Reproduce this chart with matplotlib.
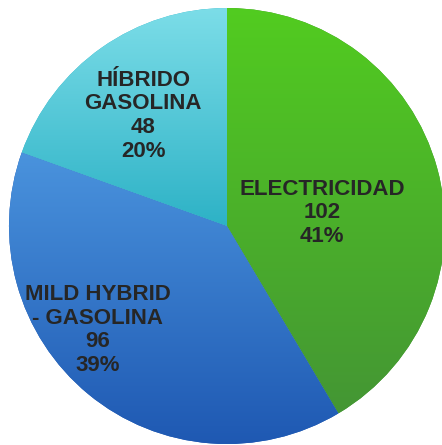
import numpy as np
import matplotlib
matplotlib.use("Agg")
import matplotlib.pyplot as plt
from matplotlib.colors import LinearSegmentedColormap

categories = ["ELECTRICIDAD", "MILD HYBRID\n- GASOLINA", "HÍBRIDO\nGASOLINA"]
values = [102, 96, 48]
pcts = ["41%", "39%", "20%"]
top_colors = ["#52CC20", "#4A93DD", "#7CDDE8"]
bottom_colors = ["#449634", "#1E58B2", "#2DB2C6"]
label_pos = [(0.436, 0.06), (-0.592, -0.477), (-0.385, 0.505)]

W, H = 442, 445
fig = plt.figure(figsize=(W / 100, H / 100), dpi=100)
ax = fig.add_axes([0, 0, 1, 1])
cx, cy, R = 227, 226, 218
ax.axis("off")

wedges, _ = ax.pie(values, startangle=90, counterclock=False, radius=1,
                   wedgeprops=dict(linewidth=0))
ax.set_aspect("auto")

grad = np.linspace(0, 1, 256).reshape(-1, 1)
for w, tc, bc in zip(wedges, top_colors, bottom_colors):
    verts = w.get_path().vertices
    x0, x1 = verts[:, 0].min(), verts[:, 0].max()
    y0, y1 = verts[:, 1].min(), verts[:, 1].max()
    cmap = LinearSegmentedColormap.from_list("g", [tc, bc])
    w.set_facecolor(bc)
    w.set_edgecolor("none")
    im = ax.imshow(grad, cmap=cmap, extent=(x0, x1, y0, y1), origin="upper",
                   aspect="auto", interpolation="bilinear", zorder=2)
    im.set_clip_path(w)

ax.set_xlim(-cx / R, (W - cx) / R)
ax.set_ylim(-(H - cy) / R, cy / R)

for (x, y), cat, v, p in zip(label_pos, categories, values, pcts):
    ax.text(x, y, f"{cat}\n{v}\n{p}", ha="center", va="center",
            fontsize=16, fontweight="bold", family="Liberation Sans",
            color="#262626", linespacing=1.18, zorder=5)

fig.savefig("out.png", dpi=100)
